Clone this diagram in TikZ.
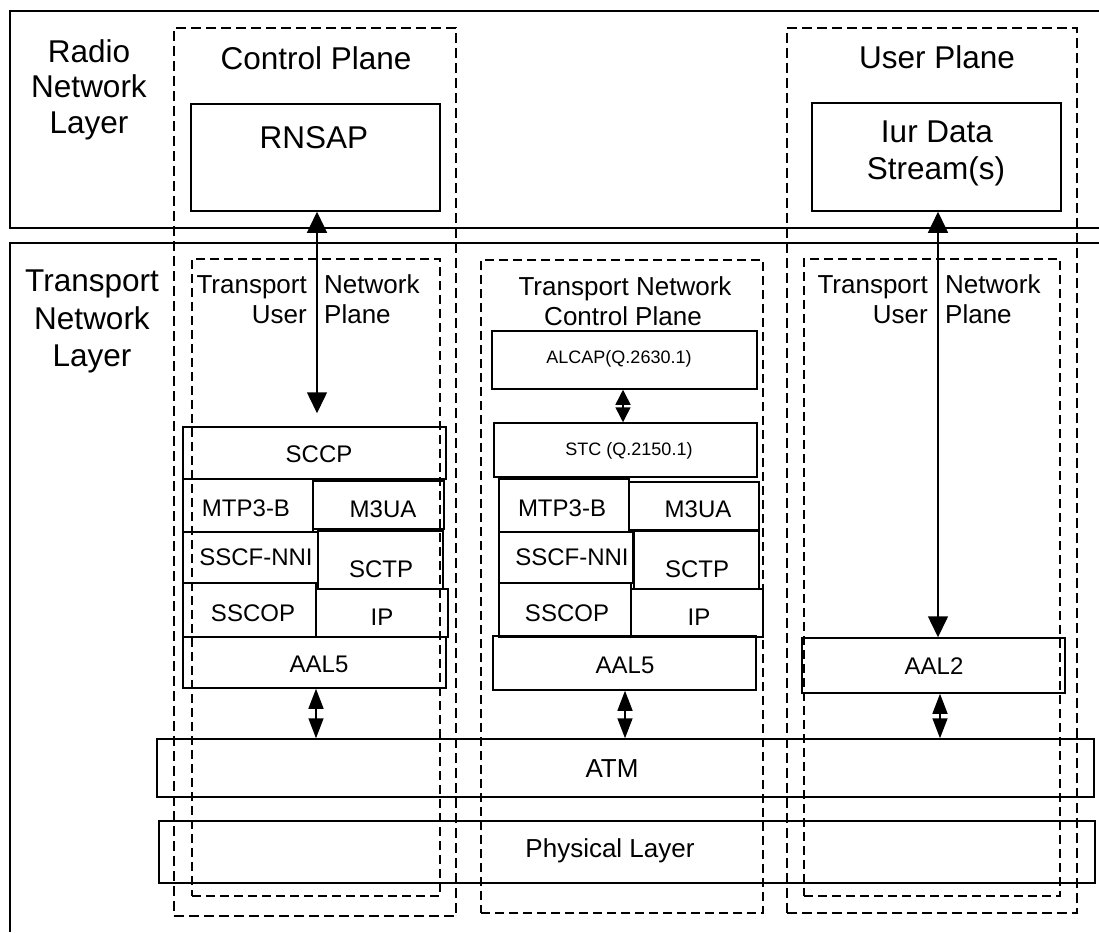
\documentclass[tikz,border=0pt]{standalone}
\usepackage{fontspec}
\setmainfont{Liberation Sans}
\usetikzlibrary{arrows.meta,fit}
\begin{document}
\begin{tikzpicture}[x=1pt,y=-1pt,
  box/.style={draw, line width=1.5pt, inner sep=0pt},
  layerline/.style={draw, line width=2.4pt},
  planebox/.style={draw, dash pattern=on 10pt off 5pt, line width=2.8pt, inner sep=0pt},
  subplane/.style={draw, dash pattern=on 9pt off 5pt, line width=1.6pt, inner sep=0pt},
  big/.style={font=\fontsize{31.5}{36}\selectfont, inner sep=0pt, anchor=base},
  mid/.style={font=\fontsize{26}{30}\selectfont, inner sep=0pt, anchor=base},
  small/.style={font=\fontsize{24}{28}\selectfont, inner sep=0pt, anchor=base},
  tiny/.style={font=\fontsize{18}{21}\selectfont, inner sep=0pt, anchor=base},
  longdbl/.style={line width=1.5pt, {Triangle[length=21pt,width=20pt]}-{Triangle[length=21pt,width=20pt]}},
  shortdbl/.style={line width=1.5pt, {Triangle[length=20pt,width=15pt]}-{Triangle[length=20pt,width=15pt]}},
  tinydbl/.style={line width=1.5pt, {Triangle[length=15pt,width=15pt]}-{Triangle[length=15pt,width=15pt]}}
]
\useasboundingbox (0,0) rectangle (1099,932);

% layer frames
\draw[layerline] (1099,11) -- (10,11) -- (10,228) -- (1099,228);
\draw[layerline] (1099,243) -- (10,243) -- (10,932);

% plane frames
\node[planebox, fit={(174,28) (456,916)}] (cplane) {};
\node[planebox, fit={(787,28) (1077,913)}] (uplane) {};
\node[subplane, fit={(192,259) (440,896)}] (tnupL) {};
\node[subplane, fit={(481,260) (763,913)}] (tncp) {};
\node[subplane, fit={(804,259) (1060,896)}] (tnupR) {};

% layer labels
\node[big] (rnl1) at (89,62) {Radio};
\node[big] (rnl2) at (89,97) {Network};
\node[big] (rnl3) at (89,133) {Layer};
\node[big] (tnl1) at (92,291) {Transport};
\node[big] (tnl2) at (92,329) {Network};
\node[big] (tnl3) at (92,366) {Layer};

% plane labels
\node[big] (cpl) at (316,69) {Control Plane};
\node[big] (upl) at (937,68) {User Plane};

% radio network layer boxes
\node[box, fit={(191,104) (440,211)}] (rnsap) {};
\node[big] (rnsapt) at (314,148) {RNSAP};
\node[box, fit={(812,103) (1061,211)}] (iur) {};
\node[big] (iurt1) at (937,142) {Iur Data};
\node[big] (iurt2) at (936,179) {Stream(s)};

% transport sub-plane labels
\node[mid, anchor=base east] (tlu1) at (307,293) {Transport};
\node[mid, anchor=base east] (tlu2) at (307,323) {User};
\node[mid, anchor=base west] (tlu3) at (324,293) {Network};
\node[mid, anchor=base west] (tlu4) at (324,323) {Plane};
\node[mid] (tc1) at (625,295) {Transport Network};
\node[mid] (tc2) at (623,325) {Control Plane};
\node[mid, anchor=base east] (tru1) at (928,293) {Transport};
\node[mid, anchor=base east] (tru2) at (928,323) {User};
\node[mid, anchor=base west] (tru3) at (945,293) {Network};
\node[mid, anchor=base west] (tru4) at (945,323) {Plane};

% left stack
\node[box, fit={(183,427) (446,479)}] (sccpL) {};
\node[small] at (319,462) {SCCP};
\node[box, fit={(183,479) (313,532)}] (mtpL) {};
\node[small] at (246,516) {MTP3-B};
\node[box, fit={(313,481) (444,529)}] (m3uaL) {};
\node[small] at (383,517) {M3UA};
\node[box, fit={(183,532) (318,583)}] (sscfL) {};
\node[small] at (256,565) {SSCF-NNI};
\node[box, fit={(318,531) (443,589)}] (sctpL) {};
\node[small] at (381,577) {SCTP};
\node[box, fit={(183,583) (316,637)}] (sscopL) {};
\node[small] at (253,621) {SSCOP};
\node[box, fit={(316,589) (448,637)}] (ipL) {};
\node[small] at (382,625) {IP};
\node[box, fit={(183,637) (446,688)}] (aal5L) {};
\node[small] at (319,672) {AAL5};

% middle stack
\node[box, fit={(492,331) (757,389)}] (alcap) {};
\node[tiny] at (619,363) {ALCAP(Q.2630.1)};
\node[box, fit={(494,423) (757,477)}] (stc) {};
\node[tiny] at (629,455) {STC (Q.2150.1)};
\node[box, fit={(499,479) (629,532)}] (mtpM) {};
\node[small] at (562,516) {MTP3-B};
\node[box, fit={(629,482) (759,530)}] (m3uaM) {};
\node[small] at (698,517) {M3UA};
\node[box, fit={(499,532) (633,583)}] (sscfM) {};
\node[small] at (572,565) {SSCF-NNI};
\node[box, fit={(634,531) (759,589)}] (sctpM) {};
\node[small] at (697,577) {SCTP};
\node[box, fit={(499,583) (631,637)}] (sscopM) {};
\node[small] at (567,621) {SSCOP};
\node[box, fit={(631,589) (763,637)}] (ipM) {};
\node[small] at (699,625) {IP};
\node[box, fit={(493,636) (756,690)}] (aal5M) {};
\node[small] at (625,673) {AAL5};

% right stack
\node[box, fit={(802,638) (1065,693)}] (aal2) {};
\node[small] at (934,674) {AAL2};

% common layers
\node[box, fit={(157,739) (1094,797)}] (atm) {};
\node[mid] at (612,777) {ATM};
\node[box, fit={(159,821) (1095,883)}] (phy) {};
\node[mid] at (610,857) {Physical Layer};

% arrows
\coordinate (ax1) at (317,0);
\coordinate (ax2) at (938,0);
\coordinate (sx1) at (316,0);
\coordinate (sx2) at (625,0);
\coordinate (sx3) at (940,0);
\coordinate (sx4) at (623,0);
\draw[longdbl, shorten >=13pt] (rnsap.south -| ax1) -- (sccpL.north -| ax1);
\draw[longdbl] (iur.south -| ax2) -- (aal2.north -| ax2);
\draw[shortdbl] (aal5L.south -| sx1) -- (atm.north -| sx1);
\draw[shortdbl] (aal5M.south -| sx2) -- (atm.north -| sx2);
\draw[shortdbl] (aal2.south -| sx3) -- (atm.north -| sx3);
\draw[tinydbl] (alcap.south -| sx4) -- (stc.north -| sx4);
\end{tikzpicture}
\end{document}
